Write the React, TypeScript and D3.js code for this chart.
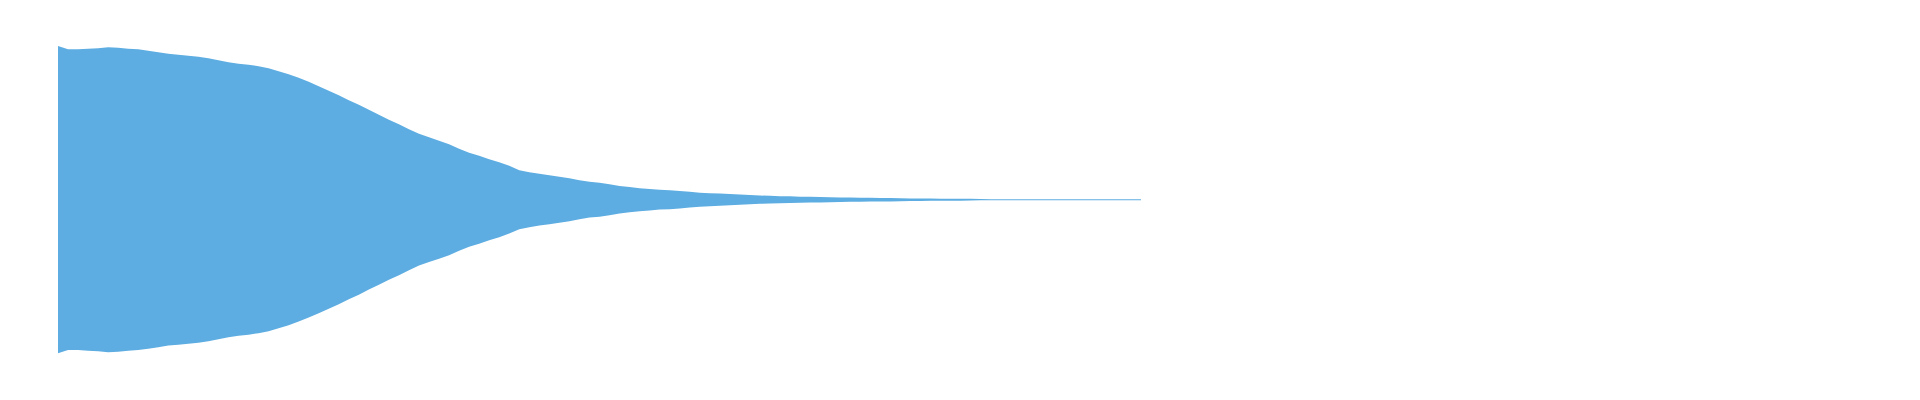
import React, { useEffect, useRef } from 'react'
import * as d3 from 'd3'

// peak amplitude of the waveform, one value every ~10px of the track (normalised, 1 = full scale)
const peaks: number[] = [
  0.96, 0.94, 0.94, 0.944, 0.947, 0.953, 0.95, 0.944, 0.94, 0.931,
  0.922, 0.912, 0.906, 0.9, 0.894, 0.884, 0.872, 0.859, 0.85, 0.844,
  0.834, 0.822, 0.803, 0.784, 0.762, 0.737, 0.709, 0.681, 0.653, 0.622,
  0.594, 0.562, 0.531, 0.5, 0.472, 0.441, 0.412, 0.39, 0.369, 0.347,
  0.319, 0.294, 0.275, 0.253, 0.234, 0.212, 0.184, 0.172, 0.162, 0.153,
  0.144, 0.134, 0.122, 0.112, 0.106, 0.097, 0.086, 0.079, 0.072, 0.067,
  0.062, 0.059, 0.055, 0.049, 0.044, 0.041, 0.038, 0.035, 0.032, 0.029,
  0.026, 0.024, 0.022, 0.021, 0.019, 0.018, 0.017, 0.016, 0.014, 0.013,
  0.0125, 0.012, 0.011, 0.0105, 0.0095, 0.008, 0.0075, 0.007, 0.0066, 0.0063,
  0.0063, 0.0056, 0.004, 0.0031, 0.0031, 0.0031, 0.0031, 0.0031, 0.0031, 0.0031,
  0.0031, 0.0031, 0.0031, 0.0031, 0.0031, 0.0031, 0.0031, 0.0031, 0.0031,
]

const width = 1904
const height = 384
const waveColor = '#5dade2'

const Waveform: React.FC = () => {
  const svgRef = useRef<SVGSVGElement>(null)

  useEffect(() => {
    if (!svgRef.current) return

    const x = d3.scaleLinear().domain([0, peaks.length - 1]).range([50, 1133])
    const y = d3.scaleLinear().domain([-1, 1]).range([351.7, 31.7])

    const area = d3
      .area<number>()
      .x((d, i) => x(i))
      .y0((d) => y(-d))
      .y1((d) => y(d))

    const svg = d3.select(svgRef.current)
    svg.selectAll('*').remove()

    svg.attr('width', width).attr('height', height)

    svg.append('path').datum(peaks).attr('d', area).style('fill', waveColor)
  }, [])

  return <svg ref={svgRef} style={{ display: 'block' }} />
}

export default function App() {
  return <Waveform />
}
